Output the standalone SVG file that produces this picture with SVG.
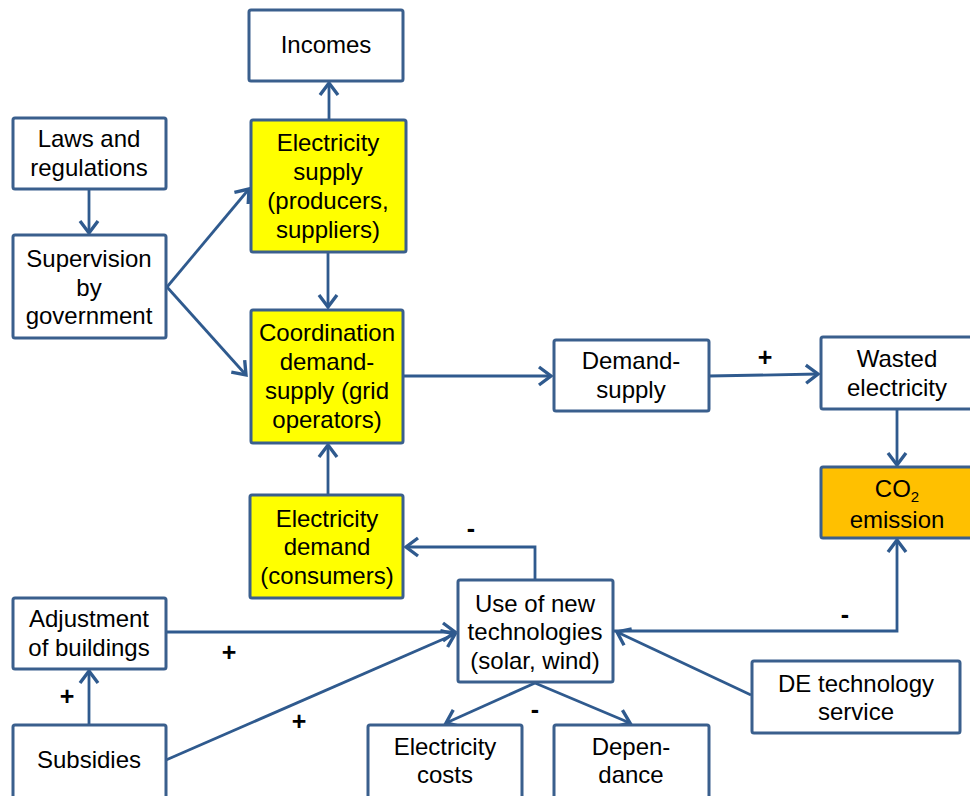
<svg xmlns="http://www.w3.org/2000/svg" width="970" height="796" viewBox="0 0 970 796">
  <defs>
    <style>
      .box { fill: #ffffff; stroke: #3a5f8d; stroke-width: 3; }
      .yel { fill: #ffff00; }
      .org { fill: #ffc000; }
      .lbl { font-family: "Liberation Sans", Arial, sans-serif; font-size: 24px; fill: #000000; text-anchor: middle; }
      .sign { font-family: "Liberation Sans", Arial, sans-serif; font-size: 25px; font-weight: bold; fill: #000000; text-anchor: middle; }
      .conn { fill: none; stroke: #2f5a8e; stroke-width: 2.8; stroke-linejoin: miter; }
      .arr { marker-end: url(#head); }
    </style>
    <marker id="head" markerUnits="userSpaceOnUse" markerWidth="24" markerHeight="24" viewBox="-14 -10 16 20" refX="0" refY="0" orient="auto">
      <path d="M -10 -7.5 L 0 0 L -10 7.5" fill="none" stroke="#2f5a8e" stroke-width="2.8"/>
    </marker>
  </defs>

  <rect width="970" height="796" fill="#ffffff"/>

  <!-- connectors -->
  <g id="connectors">
    <line class="conn arr" x1="329" y1="120" x2="329" y2="83"/>
    <line class="conn arr" x1="89" y1="189" x2="89" y2="233"/>
    <line class="conn arr" x1="167" y1="287" x2="249" y2="189"/>
    <line class="conn arr" x1="167" y1="287" x2="246" y2="375"/>
    <line class="conn arr" x1="328" y1="252" x2="328" y2="307"/>
    <line class="conn arr" x1="404" y1="376" x2="551" y2="376"/>
    <line class="conn arr" x1="709" y1="376" x2="818" y2="374"/>
    <line class="conn arr" x1="897" y1="409" x2="897" y2="465"/>
    <line class="conn arr" x1="328" y1="495" x2="328" y2="445"/>
    <polyline class="conn arr" points="535,580 535,547 406,547"/>
    <line class="conn arr" x1="166" y1="632" x2="455" y2="632"/>
    <line class="conn arr" x1="166" y1="760" x2="455" y2="634"/>
    <line class="conn arr" x1="89" y1="725" x2="89" y2="671"/>
    <line class="conn arr" x1="535" y1="683" x2="446" y2="723"/>
    <line class="conn arr" x1="535" y1="683" x2="630" y2="723"/>
    <polyline class="conn arr" points="613,631 897,631 897,540"/>
    <line class="conn arr" x1="751" y1="695" x2="617" y2="632"/>
  </g>

  <!-- polarity signs -->
  <g id="signs">
    <text class="sign" x="765" y="366">+</text>
    <text class="sign" x="471" y="537">-</text>
    <text class="sign" x="229" y="661">+</text>
    <text class="sign" x="67" y="705">+</text>
    <text class="sign" x="299" y="730">+</text>
    <text class="sign" x="535" y="718">-</text>
    <text class="sign" x="845" y="623">-</text>
  </g>

  <g id="incomes">
    <rect class="box" x="249" y="10" width="154" height="71" rx="2"/>
    <text class="lbl" x="326" y="53">Incomes</text>
  </g>

  <g id="laws">
    <rect class="box" x="13" y="118" width="153" height="71" rx="2"/>
    <text class="lbl" x="89" y="147">Laws and</text>
    <text class="lbl" x="89" y="176">regulations</text>
  </g>

  <g id="supervision">
    <rect class="box" x="13" y="235" width="153" height="103" rx="2"/>
    <text class="lbl" x="89" y="267">Supervision</text>
    <text class="lbl" x="89" y="296">by</text>
    <text class="lbl" x="89" y="324">government</text>
  </g>

  <g id="electricity-supply">
    <rect class="box yel" x="251" y="120" width="155" height="132" rx="2"/>
    <text class="lbl" x="328" y="151">Electricity</text>
    <text class="lbl" x="328" y="180">supply</text>
    <text class="lbl" x="328" y="209">(producers,</text>
    <text class="lbl" x="328" y="238">suppliers)</text>
  </g>

  <g id="coordination">
    <rect class="box yel" x="251" y="310" width="152" height="133" rx="2"/>
    <text class="lbl" x="327" y="341">Coordination</text>
    <text class="lbl" x="327" y="370">demand-</text>
    <text class="lbl" x="327" y="399">supply (grid</text>
    <text class="lbl" x="327" y="428">operators)</text>
  </g>

  <g id="demand-supply">
    <rect class="box" x="554" y="340" width="155" height="71" rx="2"/>
    <text class="lbl" x="631" y="369">Demand-</text>
    <text class="lbl" x="631" y="398">supply</text>
  </g>

  <g id="wasted">
    <rect class="box" x="821" y="337" width="154" height="72" rx="2"/>
    <text class="lbl" x="897" y="367">Wasted</text>
    <text class="lbl" x="897" y="396">electricity</text>
  </g>

  <g id="co2">
    <rect class="box org" x="821" y="467" width="154" height="71" rx="2"/>
    <text class="lbl" x="897" y="497">CO<tspan font-size="15" dy="5">2</tspan></text>
    <text class="lbl" x="897" y="528">emission</text>
  </g>

  <g id="electricity-demand">
    <rect class="box yel" x="250" y="495" width="153" height="103" rx="2"/>
    <text class="lbl" x="327" y="527">Electricity</text>
    <text class="lbl" x="327" y="555">demand</text>
    <text class="lbl" x="327" y="584">(consumers)</text>
  </g>

  <g id="new-technologies">
    <rect class="box" x="458" y="580" width="155" height="102" rx="2"/>
    <text class="lbl" x="535" y="612">Use of new</text>
    <text class="lbl" x="535" y="640">technologies</text>
    <text class="lbl" x="535" y="669">(solar, wind)</text>
  </g>

  <g id="adjustment">
    <rect class="box" x="13" y="598" width="153" height="71" rx="2"/>
    <text class="lbl" x="89" y="627">Adjustment</text>
    <text class="lbl" x="89" y="656">of buildings</text>
  </g>

  <g id="subsidies">
    <rect class="box" x="13" y="725" width="153" height="80" rx="2"/>
    <text class="lbl" x="89" y="768">Subsidies</text>
  </g>

  <g id="de-technology">
    <rect class="box" x="752" y="661" width="208" height="72" rx="2"/>
    <text class="lbl" x="856" y="692">DE technology</text>
    <text class="lbl" x="856" y="720">service</text>
  </g>

  <g id="electricity-costs">
    <rect class="box" x="368" y="725" width="154" height="80" rx="2"/>
    <text class="lbl" x="445" y="755">Electricity</text>
    <text class="lbl" x="445" y="783">costs</text>
  </g>

  <g id="dependance">
    <rect class="box" x="554" y="725" width="155" height="80" rx="2"/>
    <text class="lbl" x="631" y="755">Depen-</text>
    <text class="lbl" x="631" y="783">dance</text>
  </g>
</svg>
